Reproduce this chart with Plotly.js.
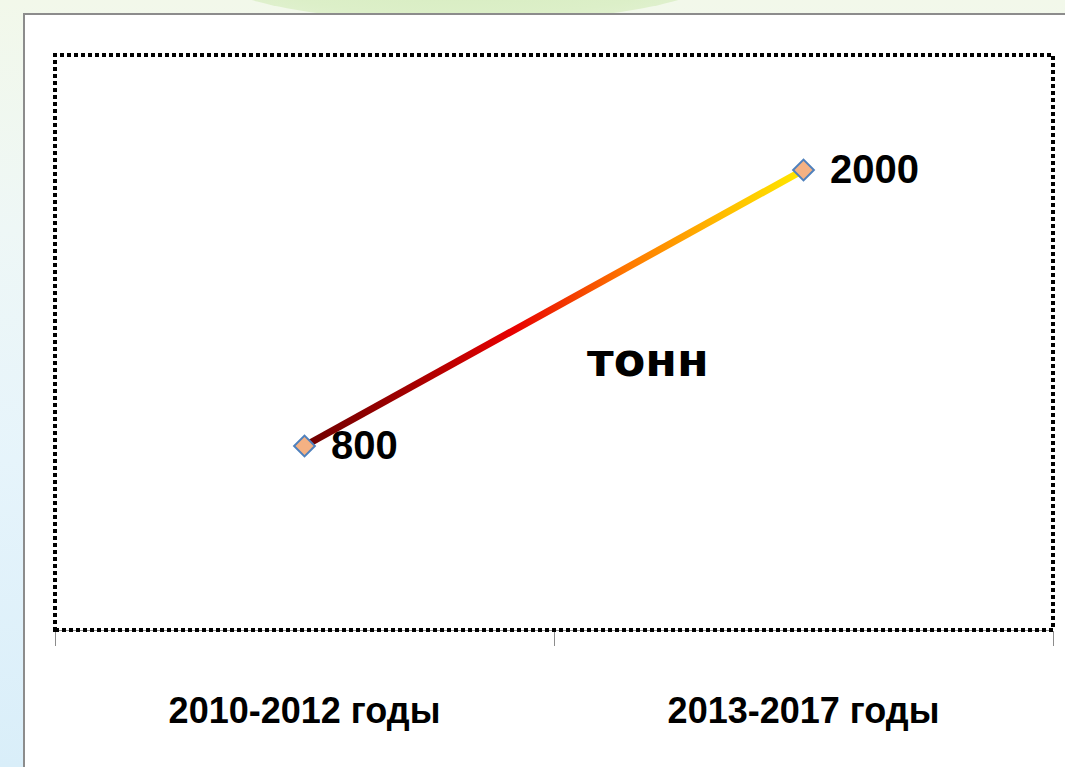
<!DOCTYPE html>
<html>
<head>
<meta charset="utf-8">
<script src="https://cdn.plot.ly/plotly-3.0.1.min.js"></script>
<style>
  html, body { margin:0; padding:0; width:1065px; height:767px; overflow:hidden; }
  body {
    background: linear-gradient(180deg, #f2f8ea 0%, #eef7f6 30%, #e6f4fb 60%, #d9eef9 100%);
    position: relative;
  }
  #blob {
    position:absolute; left:215px; top:-70px; width:500px; height:92px;
    border-radius:50%; background: radial-gradient(ellipse at center, #d6ecbf 0%, #dcefc8 60%, #e6f3d8 100%);
  }
  #panel {
    position:absolute; left:23px; top:13px; width:1100px; height:800px;
    background:#ffffff; border:2px solid #8c8c8c; box-sizing:border-box;
  }
  #chart { position:absolute; left:0; top:0; width:1065px; height:767px; }
</style>
</head>
<body>
<div id="blob"></div>
<div id="panel"></div>
<div id="chart"></div>
<script>
const categories = ["2010-2012 годы", "2013-2017 годы"];
const values = [800, 2000];
const unitLabel = "тонн";

const trace = {
  type: "scatter",
  mode: "lines+markers",
  x: categories,
  y: values,
  line: { color: "#e00000", width: 7 },
  marker: { symbol: "diamond", size: 16, color: "#f4b183", line: { color: "#4f81bd", width: 2 } },
  hoverinfo: "none"
};

const annotations = categories.map((c, i) => ({
  x: c, y: values[i], xref: "x", yref: "y",
  text: String(values[i]), showarrow: false,
  xanchor: "left", yanchor: "middle", xshift: 24, yshift: 1,
  font: { family: "Liberation Sans, Arial, sans-serif", size: 40, color: "#000", weight: "bold" }
}));
annotations.push({
  x: 0.594, y: 0.47, xref: "paper", yref: "paper",
  text: unitLabel, showarrow: false, xanchor: "center", yanchor: "middle",
  font: { family: "DejaVu Sans, Verdana, sans-serif", size: 46, color: "#000", weight: "bold" }
});

const layout = {
  width: 1065, height: 767,
  margin: { l: 55, r: 12, t: 55, b: 137, pad: 0 },
  paper_bgcolor: "rgba(0,0,0,0)",
  plot_bgcolor: "rgba(0,0,0,0)",
  showlegend: false,
  xaxis: {
    type: "category", range: [-0.5, 1.5],
    showgrid: false, zeroline: false,
    showline: true, linecolor: "#8c8c8c", linewidth: 1,
    ticks: "outside", tickson: "boundaries", ticklen: 15, tickcolor: "#8c8c8c", tickwidth: 1,
    ticklabelstandoff: 49,
    tickfont: { family: "Liberation Sans, Arial, sans-serif", size: 36, color: "#000", weight: "bold" },
    fixedrange: true
  },
  yaxis: {
    range: [0, 2500], visible: false, showgrid: false, zeroline: false, fixedrange: true
  },
  shapes: [{
    type: "rect", xref: "paper", yref: "paper", x0: 0, x1: 1, y0: 0, y1: 1,
    line: { color: "#000", width: 4, dash: "4px,3px" }, fillcolor: "rgba(0,0,0,0)", layer: "above"
  }],
  annotations: annotations
};

Plotly.newPlot("chart", [trace], layout, { displayModeBar: false, staticPlot: true }).then(function (gd) {
  const svg = gd.querySelector(".main-svg");
  const ns = "http://www.w3.org/2000/svg";
  let defs = svg.querySelector("defs");
  if (!defs) { defs = document.createElementNS(ns, "defs"); svg.insertBefore(defs, svg.firstChild); }
  const grad = document.createElementNS(ns, "linearGradient");
  grad.setAttribute("id", "lineGrad");
  grad.setAttribute("x1", "0"); grad.setAttribute("y1", "0");
  grad.setAttribute("x2", "1"); grad.setAttribute("y2", "0");
  [["0", "#6e0000"], ["0.2", "#a00000"], ["0.42", "#e80000"], ["0.65", "#ff7a00"], ["0.85", "#ffc000"], ["1", "#ffe800"]].forEach(function (s) {
    const st = document.createElementNS(ns, "stop");
    st.setAttribute("offset", s[0]); st.setAttribute("stop-color", s[1]);
    grad.appendChild(st);
  });
  defs.appendChild(grad);
  const path = gd.querySelector(".scatterlayer .js-line");
  if (path) { path.style.stroke = "url(#lineGrad)"; }
});
</script>
</body>
</html>
